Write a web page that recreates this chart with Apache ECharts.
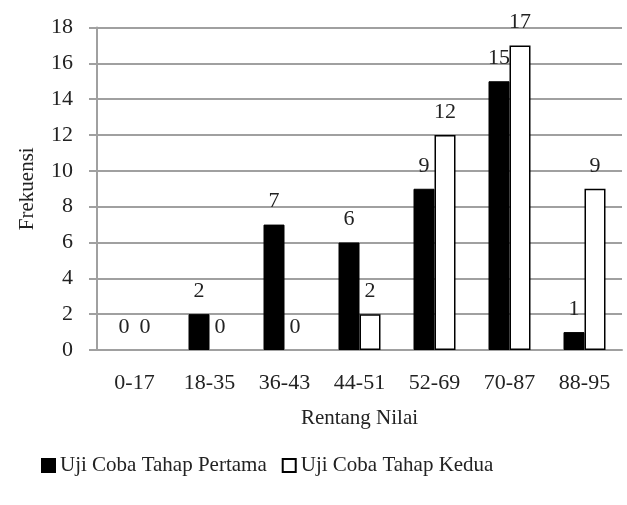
<!DOCTYPE html>
<html>
<head>
<meta charset="utf-8">
<script src="https://cdn.jsdelivr.net/npm/echarts@6/dist/echarts.min.js"></script>
<style>
	html, body { margin: 0; padding: 0; background: #fff; }
	#chartmain { width: 627px; height: 505px; }
</style>
</head>
<body>
<div id="chartmain"></div>
<script>
	var categories = [ '0-17', '18-35', '36-43', '44-51', '52-69', '70-87', '88-95' ];
	var tahapPertama = [ 0, 2, 7, 6, 9, 15, 1 ];
	var tahapKedua = [ 0, 0, 0, 2, 12, 17, 9 ];
	var seriesNames = [ 'Uji Coba Tahap Pertama', 'Uji Coba Tahap Kedua' ];

	var font = 'Liberation Serif';
	var gridColor = '#a0a0a0';

	var labelStyle = {
		show : true,
		position : 'top',
		distance : 12,
		fontFamily : font,
		fontSize : 22,
		color : '#222'
	};

	// zero bars should not draw a border line, only the label
	function toItems(arr) {
		return arr.map(function(v) {
			return v === 0 ? {
				value : v,
				itemStyle : {
					color : 'rgba(0,0,0,0)',
					borderColor : 'rgba(0,0,0,0)',
					borderWidth : 0
				}
			} : v;
		});
	}

	option = {
		animation : false,
		textStyle : {
			fontFamily : font
		},
		grid : {
			left : 97,
			right : 5,
			top : 27.5,
			bottom : 155,
			containLabel : false
		},
		legend : {
			left : 36,
			top : 450,
			itemWidth : 13,
			itemHeight : 13,
			itemGap : 15,
			textStyle : {
				fontFamily : font,
				fontSize : 21,
				color : '#222'
			},
			data : [ {
				name : seriesNames[0],
				icon : 'rect'
			}, {
				name : seriesNames[1],
				icon : 'rect'
			} ]
		},
		xAxis : {
			type : 'category',
			data : categories,
			name : 'Rentang Nilai',
			nameLocation : 'middle',
			nameGap : 58,
			nameTextStyle : {
				fontFamily : font,
				fontSize : 21,
				color : '#222'
			},
			axisLine : {
				lineStyle : {
					color : gridColor,
					width : 2
				}
			},
			axisTick : {
				show : false
			},
			axisLabel : {
				margin : 22,
				fontFamily : font,
				fontSize : 22,
				color : '#222'
			}
		},
		yAxis : {
			type : 'value',
			min : 0,
			max : 18,
			interval : 2,
			name : 'Frekuensi',
			nameLocation : 'middle',
			nameGap : 59,
			nameTextStyle : {
				fontFamily : font,
				fontSize : 21,
				color : '#222'
			},
			axisLine : {
				show : true,
				lineStyle : {
					color : gridColor,
					width : 2
				}
			},
			axisTick : {
				show : true,
				length : 8,
				lineStyle : {
					color : gridColor,
					width : 2
				}
			},
			axisLabel : {
				margin : 24,
				fontFamily : font,
				fontSize : 22,
				color : '#222'
			},
			splitLine : {
				lineStyle : {
					color : gridColor,
					width : 2
				}
			}
		},
		series : [ {
			name : seriesNames[0],
			type : 'bar',
			data : toItems(tahapPertama),
			barWidth : 21,
			barGap : '0%',
			itemStyle : {
				color : '#000',
				borderColor : '#000',
				borderWidth : 1
			},
			label : labelStyle
		}, {
			name : seriesNames[1],
			type : 'bar',
			data : toItems(tahapKedua),
			barWidth : 21,
			barGap : '0%',
			itemStyle : {
				color : '#fff',
				borderColor : '#000',
				borderWidth : 1.5
			},
			label : labelStyle
		} ]
	};

	var myChart = echarts.init(document.getElementById('chartmain'));
	myChart.setOption(option);
</script>
</body>
</html>
